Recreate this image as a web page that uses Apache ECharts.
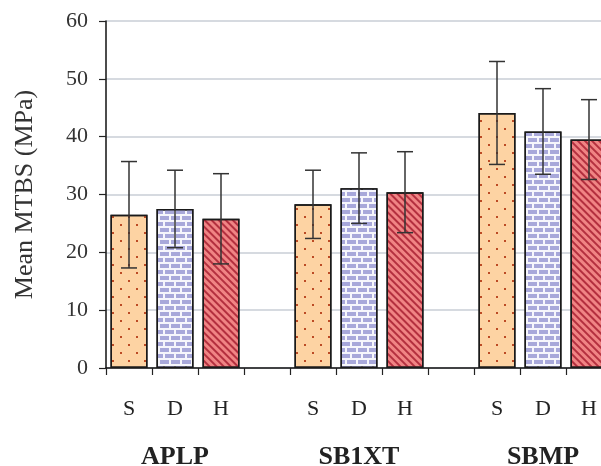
<!DOCTYPE html>
<html><head><meta charset="utf-8">
<script src="https://cdn.jsdelivr.net/npm/echarts@6/dist/echarts.min.js"></script>
<style>html,body{margin:0;padding:0;background:#fff}#c{width:601px;height:466px}</style>
</head><body><div id="c"></div>
<script>
const groups = ['APLP', 'SB1XT', 'SBMP'];
const conditions = ['S', 'D', 'H'];
const meanS = [26.5, 28.3, 44.1];
const meanD = [27.5, 31.1, 40.9];
const meanH = [25.8, 30.4, 39.5];
const sdS = [9.2, 5.9, 8.9];
const sdD = [6.7, 6.1, 7.4];
const sdH = [7.8, 7.0, 6.9];
const yTicks = [0, 10, 20, 30, 40, 50, 60];

const means = { S: meanS, D: meanD, H: meanH };
const sds = { S: sdS, D: sdD, H: sdH };
const border = { borderColor: '#1a1a1a', borderWidth: 1.5 };
const styles = {
  S: Object.assign({ color: '#FDD3A3', decal: { symbol: 'rect', symbolSize: 1, color: '#BC4A24',
      dashArrayX: [[2, 14], [0, 8, 2, 6]], dashArrayY: [2, 6], rotation: 0 } }, border),
  D: Object.assign({ color: '#F6F6FC', decal: { symbol: 'rect', symbolSize: 1, color: '#A8A8DA',
      dashArrayX: [[9, 2], [4, 2, 5, 0]], dashArrayY: [4, 2], rotation: 0 } }, border),
  H: Object.assign({ color: '#F08484', decal: { symbol: 'rect', symbolSize: 1, color: 'rgba(160,20,40,0.75)',
      dashArrayX: [1, 0], dashArrayY: [1.5, 2.5], rotation: Math.PI / 4 } }, border)
};

const catLabels = [], groupLabels = [], barData = [], errData = [];
groups.forEach((g, gi) => {
  conditions.forEach((c, ci) => {
    const idx = catLabels.length;
    catLabels.push(c);
    groupLabels.push(ci === 1 ? g : '');
    const m = means[c][gi], s = sds[c][gi];
    barData.push({ value: m, itemStyle: styles[c] });
    errData.push([idx, m - s, m + s]);
  });
  if (gi < groups.length - 1) { catLabels.push(''); groupLabels.push(''); barData.push('-'); }
});

const serif = 'Liberation Serif';
const chart = echarts.init(document.getElementById('c'));
chart.setOption({
  animation: false,
  backgroundColor: '#fff',
  grid: { left: 106, width: 506, top: 21, height: 347, outerBoundsMode: 'none', containLabel: false },
  xAxis: [{
    type: 'category', data: catLabels, position: 'bottom',
    axisLine: { lineStyle: { color: '#111', width: 1.5 } },
    axisTick: { show: true, length: 7, interval: 0, lineStyle: { color: '#222', width: 1.2 } },
    axisLabel: { interval: 0, margin: 30, fontSize: 22, fontFamily: serif, color: '#222' },
    splitLine: { show: false }
  }, {
    type: 'category', data: groupLabels, position: 'bottom', offset: 0,
    axisLine: { show: false }, axisTick: { show: false },
    axisLabel: { interval: 0, margin: 76, fontSize: 26, fontWeight: 'bold', fontFamily: serif, color: '#222' },
    splitLine: { show: false }
  }],
  yAxis: {
    type: 'value', min: yTicks[0], max: yTicks[yTicks.length - 1], interval: 10,
    axisLine: { show: true, lineStyle: { color: '#111', width: 1.5 } },
    axisTick: { show: true, length: 7, lineStyle: { color: '#222', width: 1.2 } },
    axisLabel: { margin: 18, fontSize: 22, fontFamily: serif, color: '#333' },
    splitLine: { lineStyle: { color: '#C9CED6', width: 1.5 } },
    name: 'Mean MTBS (MPa)', nameLocation: 'middle', nameGap: 68,
    nameTextStyle: { fontSize: 26, fontFamily: serif, color: '#333' }
  },
  series: [{
    type: 'bar', xAxisIndex: 0, data: barData, barWidth: 37, z: 2
  }, {
    type: 'custom', xAxisIndex: 0, data: errData, z: 5,
    encode: { x: 0, y: [1, 2] },
    renderItem: function (params, api) {
      const x = api.value(0);
      const pLo = api.coord([x, api.value(1)]);
      const pHi = api.coord([x, api.value(2)]);
      const h = 8;
      const st = { stroke: '#333', lineWidth: 1.5 };
      return { type: 'group', children: [
        { type: 'line', shape: { x1: pLo[0], y1: pLo[1], x2: pHi[0], y2: pHi[1] }, style: st },
        { type: 'line', shape: { x1: pHi[0] - h, y1: pHi[1], x2: pHi[0] + h, y2: pHi[1] }, style: st },
        { type: 'line', shape: { x1: pLo[0] - h, y1: pLo[1], x2: pLo[0] + h, y2: pLo[1] }, style: st }
      ] };
    }
  }]
});
</script></body></html>
